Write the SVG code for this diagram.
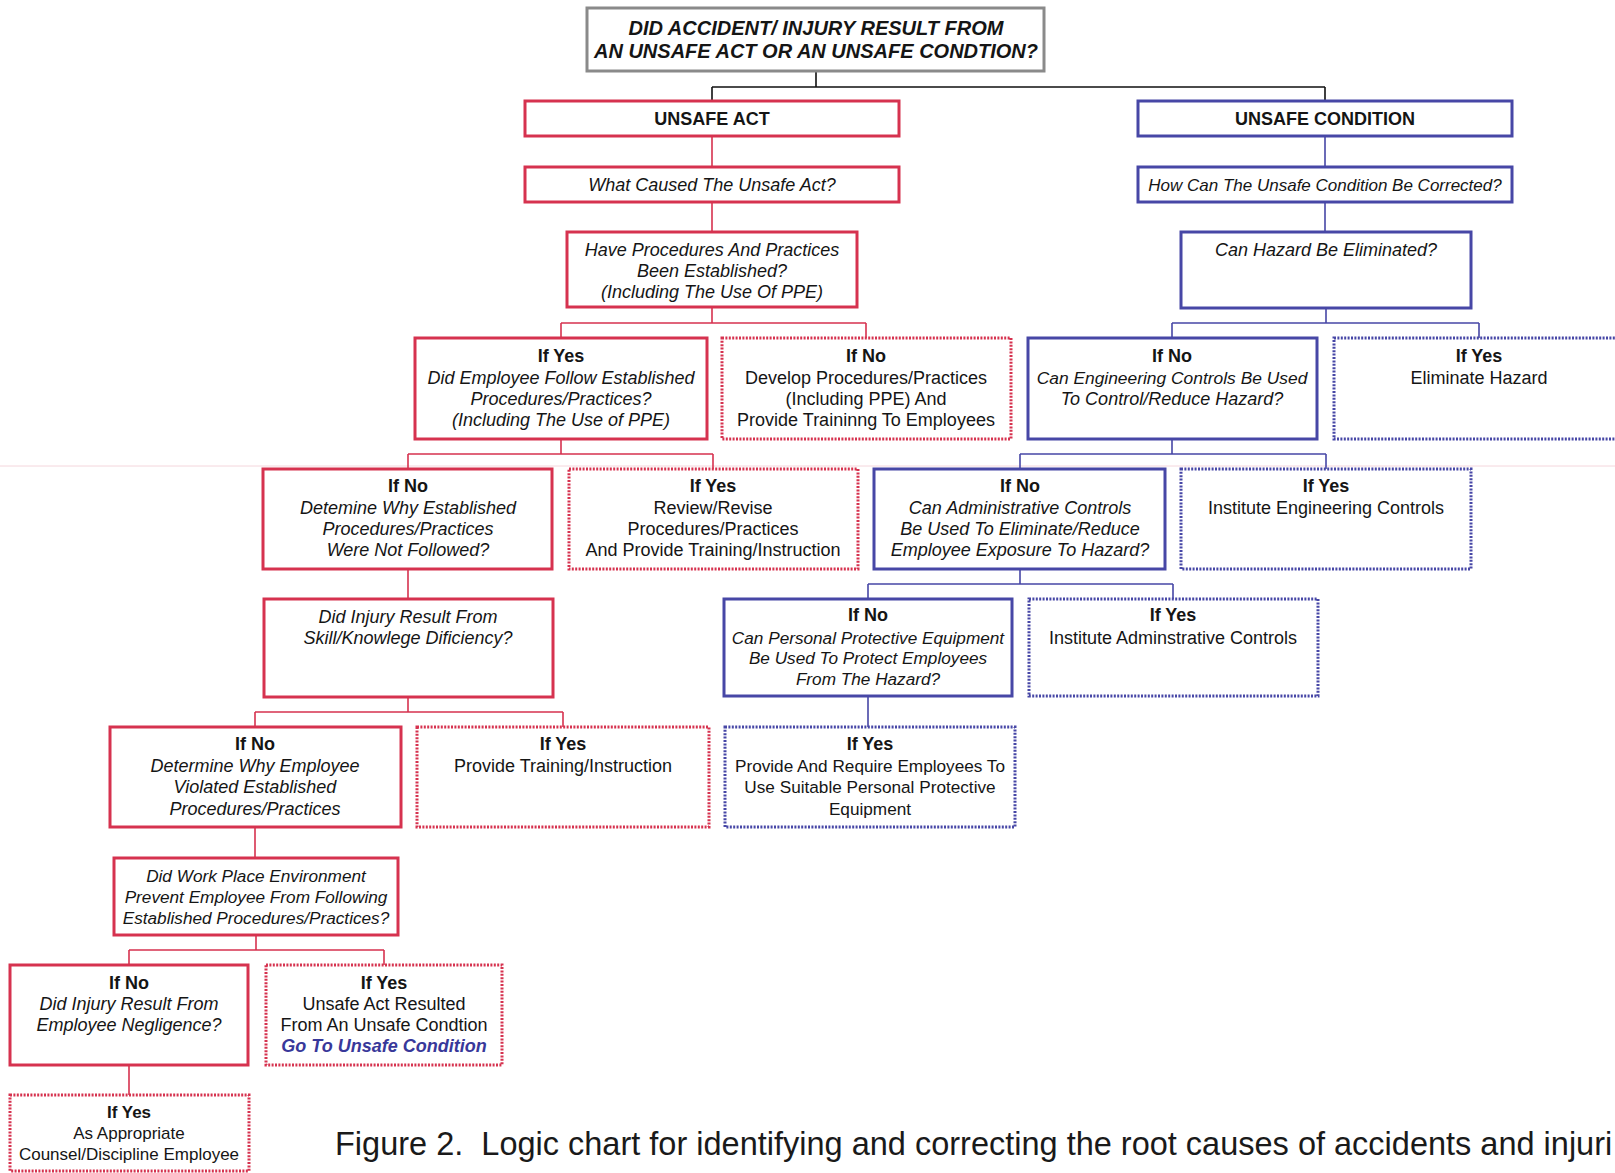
<svg xmlns="http://www.w3.org/2000/svg" width="1615" height="1173" viewBox="0 0 1615 1173">
<style>
text{font-family:"Liberation Sans",Arial,sans-serif;font-size:18px;fill:#151515;text-anchor:middle}
.b{font-weight:bold}
.i{font-style:italic}
.bi{font-weight:bold;font-style:italic}
.go{font-weight:bold;font-style:italic;fill:#38389a}
.t{font-weight:bold;font-style:italic;font-size:20px}
.cap{font-size:32.5px;text-anchor:start;fill:#1a1a1a}
.s17{font-size:17.2px}
rect{fill:#fff}
.rs{stroke:#d6324f;stroke-width:3}
.rd{stroke:#d6324f;stroke-width:3;stroke-dasharray:2 1.4}
.bs{stroke:#4747a6;stroke-width:3}
.bd{stroke:#4747a6;stroke-width:3;stroke-dasharray:2 1.4}
.gs{stroke:#8a8a8a;stroke-width:3}
.cr{stroke:#d6324f;stroke-width:1.6;fill:none}
.cb{stroke:#4747a6;stroke-width:1.6;fill:none}
.ck{stroke:#111;stroke-width:1.6;fill:none}
</style>
<rect x="0" y="0" width="1615" height="1173" fill="#fff"/>
<line x1="0" y1="466" x2="1615" y2="466" stroke="#f4d6dc" stroke-width="1"/>
<g id="connectors">
<path class="ck" d="M816 71V87M712 87H1325M712 87V101M1325 87V101"/>
<path class="cr" d="M712 136V167M712 202V232M712 307V323M561 323H866M561 323V338M866 323V338M561 439V454M408 454H713M408 454V469M713 454V469M408 569V599M408 697V712M255 712H563M255 712V727M563 712V727M255 827V858M256 935V950M129 950H384M129 950V965M384 950V965M129 1065V1095"/>
<path class="cb" d="M1325 137V167M1325 202V232M1326 308V323M1172 323H1479M1172 323V338M1479 323V338M1172 439V454M1020 454H1326M1020 454V469M1326 454V469M1020 569V584M868 584H1173M868 584V599M1173 584V599M868 696V727"/>
</g>
<g id="n-title"><rect class="gs" x="587" y="8" width="457" height="63"/>
<text class="t" x="816" y="35">DID ACCIDENT/ INJURY RESULT FROM</text>
<text class="t" x="816" y="58">AN UNSAFE ACT OR AN UNSAFE CONDTION?</text></g>
<g id="n-unsafe-act"><rect class="rs" x="525" y="101" width="374" height="35"/>
<text class="b" x="712" y="125">UNSAFE ACT</text></g>
<g id="n-unsafe-condition"><rect class="bs" x="1138" y="101" width="374" height="35"/>
<text class="b" x="1325" y="125">UNSAFE CONDITION</text></g>
<g id="n-what-caused"><rect class="rs" x="525" y="167" width="374" height="35"/>
<text class="i" x="712" y="191">What Caused The Unsafe Act?</text></g>
<g id="n-how-can"><rect class="bs" x="1138" y="167" width="374" height="35"/>
<text class="i" x="1325" y="191" style="font-size:17px">How Can The Unsafe Condition Be Corrected?</text></g>
<g id="n-have-procedures"><rect class="rs" x="567" y="232" width="290" height="75"/>
<text class="i" x="712" y="256">Have Procedures And Practices</text>
<text class="i" x="712" y="277">Been Established?</text>
<text class="i" x="712" y="298">(Including The Use Of PPE)</text></g>
<g id="n-can-hazard"><rect class="bs" x="1181" y="232" width="290" height="76"/>
<text class="i" x="1326" y="256">Can Hazard Be Eliminated?</text></g>
<g id="n-did-employee-follow"><rect class="rs" x="415" y="338" width="292" height="101"/>
<text class="b" x="561" y="362">If Yes</text>
<text class="i" x="561" y="384">Did Employee Follow Established</text>
<text class="i" x="561" y="405">Procedures/Practices?</text>
<text class="i" x="561" y="426">(Including The Use of PPE)</text></g>
<g id="n-develop"><rect class="rd" x="722" y="338" width="289" height="101"/>
<text class="b" x="866" y="362">If No</text>
<text x="866" y="384">Develop Procedures/Practices</text>
<text x="866" y="405">(Including PPE) And</text>
<text x="866" y="426">Provide Traininng To Employees</text></g>
<g id="n-can-engineering"><rect class="bs" x="1028" y="338" width="289" height="101"/>
<text class="b" x="1172" y="362">If No</text>
<text class="i" x="1172" y="384" style="font-size:17.4px">Can Engineering Controls Be Used</text>
<text class="i" x="1172" y="405">To Control/Reduce Hazard?</text></g>
<g id="n-eliminate-hazard"><rect class="bd" x="1334" y="338" width="292" height="101"/>
<text class="b" x="1479" y="362">If Yes</text>
<text x="1479" y="384">Eliminate Hazard</text></g>
<g id="n-detemine-why"><rect class="rs" x="263" y="469" width="289" height="100"/>
<text class="b" x="408" y="492">If No</text>
<text class="i" x="408" y="514">Detemine Why Established</text>
<text class="i" x="408" y="535">Procedures/Practices</text>
<text class="i" x="408" y="556">Were Not Followed?</text></g>
<g id="n-review"><rect class="rd" x="569" y="469" width="289" height="100"/>
<text class="b" x="713" y="492">If Yes</text>
<text x="713" y="514">Review/Revise</text>
<text x="713" y="535">Procedures/Practices</text>
<text x="713" y="556">And Provide Training/Instruction</text></g>
<g id="n-can-administrative"><rect class="bs" x="874" y="469" width="291" height="100"/>
<text class="b" x="1020" y="492">If No</text>
<text class="i" x="1020" y="514">Can Administrative Controls</text>
<text class="i" x="1020" y="535">Be Used To Eliminate/Reduce</text>
<text class="i" x="1020" y="556">Employee Exposure To Hazard?</text></g>
<g id="n-institute-engineering"><rect class="bd" x="1181" y="469" width="290" height="100"/>
<text class="b" x="1326" y="492">If Yes</text>
<text x="1326" y="514">Institute Engineering Controls</text></g>
<g id="n-skill"><rect class="rs" x="264" y="599" width="289" height="98"/>
<text class="i" x="408" y="623">Did Injury Result From</text>
<text class="i" x="408" y="644">Skill/Knowlege Dificiency?</text></g>
<g id="n-can-ppe"><rect class="bs" x="724" y="599" width="288" height="97"/>
<text class="b" x="868" y="621">If No</text>
<text class="i s17" x="868" y="644">Can Personal Protective Equipment</text>
<text class="i s17" x="868" y="664">Be Used To Protect Employees</text>
<text class="i s17" x="868" y="685">From The Hazard?</text></g>
<g id="n-institute-admin"><rect class="bd" x="1029" y="599" width="289" height="97"/>
<text class="b" x="1173" y="621">If Yes</text>
<text x="1173" y="644">Institute Adminstrative Controls</text></g>
<g id="n-determine-violated"><rect class="rs" x="110" y="727" width="291" height="100"/>
<text class="b" x="255" y="750">If No</text>
<text class="i" x="255" y="772">Determine Why Employee</text>
<text class="i" x="255" y="793">Violated Established</text>
<text class="i" x="255" y="815">Procedures/Practices</text></g>
<g id="n-provide-training"><rect class="rd" x="417" y="727" width="292" height="100"/>
<text class="b" x="563" y="750">If Yes</text>
<text x="563" y="772">Provide Training/Instruction</text></g>
<g id="n-provide-ppe"><rect class="bd" x="725" y="727" width="290" height="100"/>
<text class="b" x="870" y="750">If Yes</text>
<text class="s17" x="870" y="772">Provide And Require Employees To</text>
<text class="s17" x="870" y="793">Use Suitable Personal Protective</text>
<text class="s17" x="870" y="815">Equipment</text></g>
<g id="n-work-place"><rect class="rs" x="114" y="858" width="284" height="77"/>
<text class="i s17" x="256" y="882">Did Work Place Environment</text>
<text class="i s17" x="256" y="903">Prevent Employee From Following</text>
<text class="i s17" x="256" y="924">Established Procedures/Practices?</text></g>
<g id="n-negligence"><rect class="rs" x="10" y="965" width="238" height="100"/>
<text class="b" x="129" y="989">If No</text>
<text class="i" x="129" y="1010">Did Injury Result From</text>
<text class="i" x="129" y="1031">Employee Negligence?</text></g>
<g id="n-unsafe-resulted"><rect class="rd" x="266" y="965" width="236" height="100"/>
<text class="b" x="384" y="989">If Yes</text>
<text x="384" y="1010">Unsafe Act Resulted</text>
<text x="384" y="1031">From An Unsafe Condtion</text>
<text class="go" x="384" y="1052">Go To Unsafe Condition</text></g>
<g id="n-counsel"><rect class="rd" x="10" y="1095" width="239" height="76"/>
<text class="b" x="129" y="1118" style="font-size:17px">If Yes</text>
<text x="129" y="1139" style="font-size:17px">As Appropriate</text>
<text x="129" y="1160" style="font-size:17px">Counsel/Discipline Employee</text></g>
<text class="cap" x="335" y="1155">Figure 2.&#160; Logic chart for identifying and correcting the root causes of accidents and injuri</text>
</svg>
